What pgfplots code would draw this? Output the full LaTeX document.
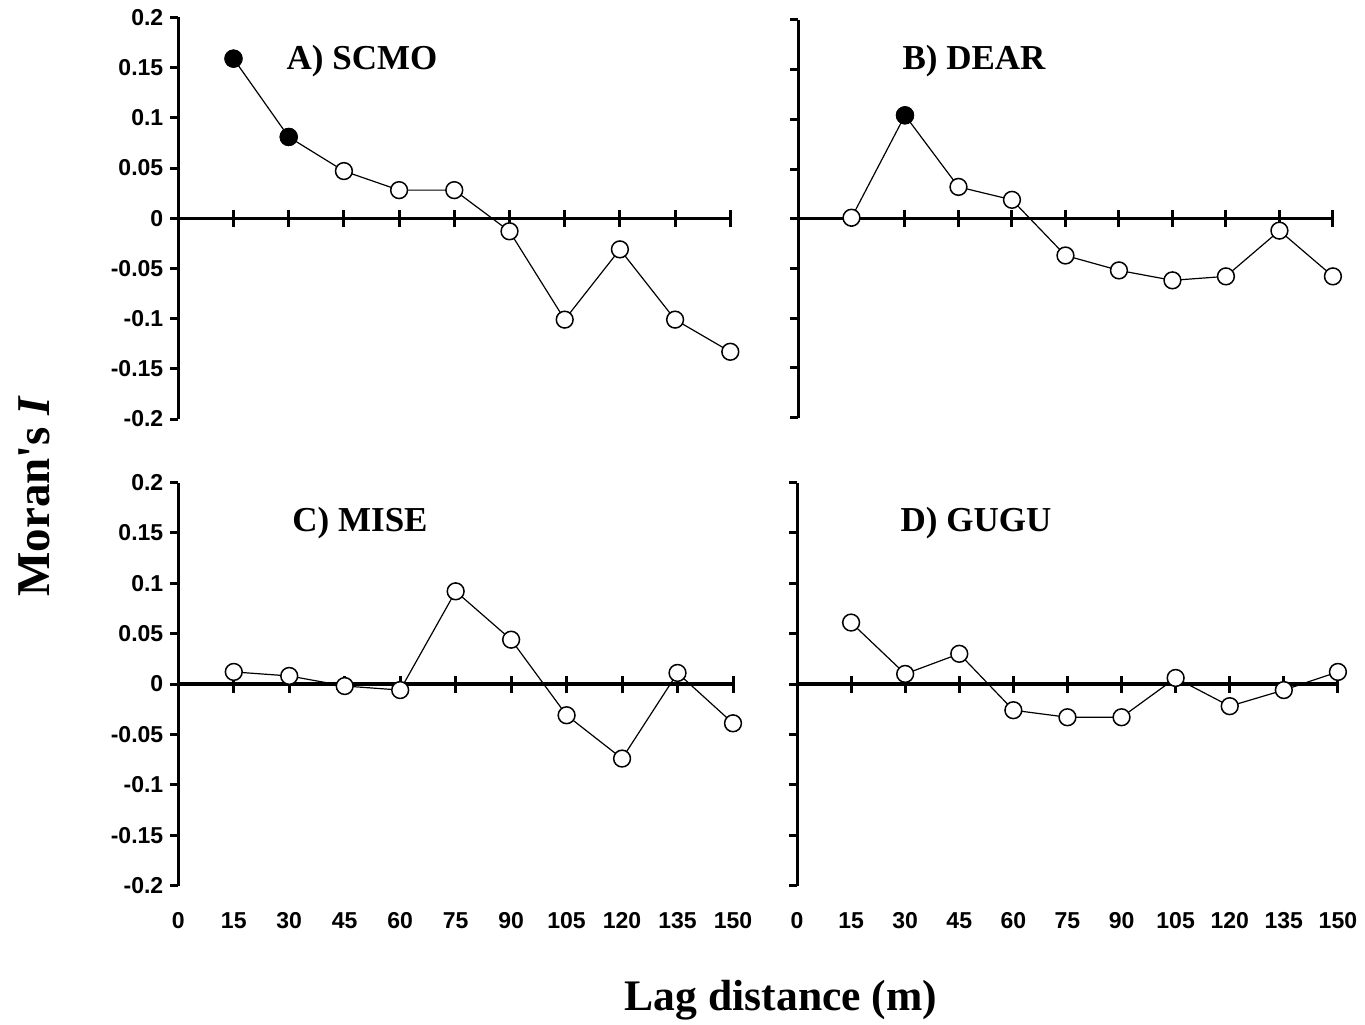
\documentclass[border=0pt]{standalone}
\usepackage{pgfplots}
\pgfplotsset{compat=1.18}
\usepackage{fontspec}
\setmainfont{Liberation Serif}
\newfontfamily\arial{Liberation Sans}

\pgfplotsset{
  zeroline/.style={
    anchor=south west, xmin=0, xmax=150, ymin=-0.2, ymax=0.2,
    axis x line*=middle, axis y line=none,
    xtick={15,30,...,150}, xticklabels={}, ytick=\empty,
    tick align=center, major tick length=8.5pt,
    xtick style={line width=1.5pt, black},
    axis line style={line width=1.65pt, black},
  },
  main/.style={
    anchor=south west, xmin=0, xmax=150, ymin=-0.2, ymax=0.2, clip=false,
    axis y line*=left, axis x line*=bottom,
    x axis line style={draw=none}, xtick style={draw=none},
    xtick={0,15,...,150},
    ytick={-0.2,-0.15,-0.1,-0.05,0,0.05,0.1,0.15,0.2},
    tick align=outside, major tick length=4pt,
    ytick style={line width=1.5pt, black},
    y axis line style={line width=1.5pt, black},
    ticklabel style={font=\arial\bfseries\fontsize{11.5}{13}\selectfont},
    /pgf/number format/assume math mode=true,
    xticklabel style={yshift=-6pt},
  },
  ylabs/.style={yticklabels={-0.2,-0.15,-0.1,-0.05,0,0.05,0.1,0.15,0.2}},
  noylabs/.style={yticklabels={}},
  noxlabs/.style={xticklabels={}},
  ser/.style={black, line width=0.6pt, mark=*, mark size=4.2pt,
    mark options={fill=white, draw=black, line width=0.75pt}},
  sig/.style={only marks, mark=*, mark size=4.2pt,
    mark options={fill=black, draw=black, line width=0.75pt}},
}

\begin{document}
\begin{tikzpicture}
\path[use as bounding box] (0,0) rectangle (682.5pt,-512pt);

% ---------- Panel A ----------
\begin{axis}[zeroline, at={(89.15pt,-209.5pt)}, x=1.84pt, y=501.9pt]
\end{axis}
\begin{axis}[main, ylabs, noxlabs, at={(89.15pt,-209.5pt)}, x=1.84pt, y=501.9pt]
\addplot[ser] coordinates {(15,0.159) (30,0.081) (45,0.047) (60,0.028) (75,0.028) (90,-0.013) (105,-0.101) (120,-0.031) (135,-0.101) (150,-0.133)};
\addplot[sig] coordinates {(15,0.159) (30,0.081)};
\end{axis}

% ---------- Panel B ----------
\begin{axis}[zeroline, at={(399pt,-208.75pt)}, x=1.783pt, y=497pt]
\end{axis}
\begin{axis}[main, noylabs, noxlabs, at={(399pt,-208.75pt)}, x=1.783pt, y=497pt]
\addplot[ser] coordinates {(15,0.001) (30,0.104) (45,0.032) (60,0.019) (75,-0.037) (90,-0.052) (105,-0.062) (120,-0.058) (135,-0.012) (150,-0.058)};
\addplot[sig] coordinates {(30,0.104)};
\end{axis}

% ---------- Panel C ----------
\begin{axis}[zeroline, at={(89.15pt,-442.75pt)}, x=1.849pt, y=503.75pt]
\end{axis}
\begin{axis}[main, ylabs, at={(89.15pt,-442.75pt)}, x=1.849pt, y=503.75pt]
\addplot[ser] coordinates {(15,0.012) (30,0.008) (45,-0.002) (60,-0.006) (75,0.092) (90,0.044) (105,-0.031) (120,-0.074) (135,0.011) (150,-0.039)};
\end{axis}

% ---------- Panel D ----------
\begin{axis}[zeroline, at={(398.5pt,-442.75pt)}, x=1.803pt, y=503.75pt]
\end{axis}
\begin{axis}[main, noylabs, at={(398.5pt,-442.75pt)}, x=1.803pt, y=503.75pt]
\addplot[ser] coordinates {(15,0.061) (30,0.010) (45,0.030) (60,-0.026) (75,-0.033) (90,-0.033) (105,0.006) (120,-0.022) (135,-0.006) (150,0.012)};
\end{axis}

% ---------- texts ----------
\begin{scope}[every node/.style={anchor=base, inner sep=0pt, font=\bfseries\fontsize{17.5}{20}\selectfont}]
\node at (181pt,-34.5pt) {A) SCMO};
\node at (487pt,-34.5pt) {B) DEAR};
\node at (180pt,-265.5pt) {C) MISE};
\node at (488pt,-265.5pt) {D) GUGU};
\end{scope}
\node[anchor=base, inner sep=0pt, font=\bfseries\fontsize{21.8}{26}\selectfont] at (390.5pt,-505pt) {Lag distance (m)};
\node[anchor=base, inner sep=0pt, rotate=90, font=\bfseries\fontsize{23.5}{28}\selectfont] at (24.5pt,-248pt) {Moran\textquotesingle s \textit{I}};
\end{tikzpicture}
\end{document}
